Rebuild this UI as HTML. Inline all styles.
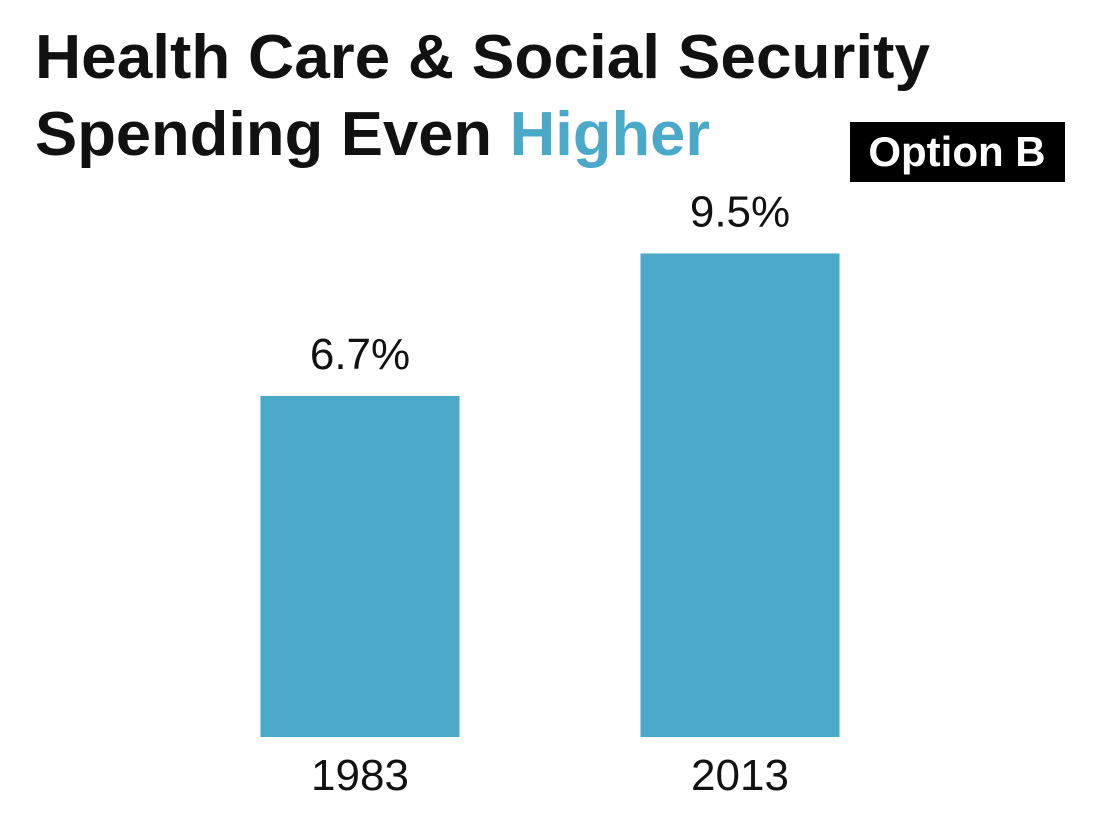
<!DOCTYPE html>
<html><head><meta charset="utf-8"><style>
html,body{margin:0;padding:0;background:#fff;}
svg{display:block;}
text{font-family:"Liberation Sans",sans-serif;}
</style></head><body>
<svg id="chart" width="1096" height="818" viewBox="0 0 1096 818">
<rect width="1096" height="818" fill="#fff"/>
<text x="35" y="78" font-size="62" font-weight="bold" fill="#111" textLength="895" lengthAdjust="spacingAndGlyphs">Health Care &amp; Social Security</text>
<text x="35" y="155" font-size="62" font-weight="bold" fill="#111" textLength="675" lengthAdjust="spacingAndGlyphs">Spending Even <tspan fill="#4aa8c9">Higher</tspan></text>
<g>
<rect x="850" y="122" width="215" height="60" fill="#000"/>
<text x="957" y="166" font-size="42" font-weight="bold" fill="#fff" text-anchor="middle">Option B</text>
</g>
<g id="bars"></g>
</svg>
<script>
const categories = ["1983", "2013"];
const values = [6.7, 9.5];
const valueLabels = ["6.7%", "9.5%"];
const baseY = 737, pxPerUnit = 50.9;
const barW = 199;
function xCenter(i){ return 360 + i*380; }
function yScale(v){ return baseY - v*pxPerUnit; }
const g = document.getElementById('bars');
const ns = 'http://www.w3.org/2000/svg';
categories.forEach((c,i)=>{
  const y = yScale(values[i]);
  const r = document.createElementNS(ns,'rect');
  
  
  r.setAttribute('x', xCenter(i)-barW/2);
  r.setAttribute('y', y);
  r.setAttribute('width', barW);
  r.setAttribute('height', baseY - y);
  r.setAttribute('fill', '#4aa8c9');
  g.appendChild(r);
  const t = document.createElementNS(ns,'text');
  
  
  t.setAttribute('x', xCenter(i));
  t.setAttribute('y', y - 27);
  t.setAttribute('font-size', '44');
  t.setAttribute('text-anchor', 'middle');
  t.setAttribute('fill', '#111');
  t.textContent = valueLabels[i];
  g.appendChild(t);
  const l = document.createElementNS(ns,'text');
  
  
  l.setAttribute('x', xCenter(i));
  l.setAttribute('y', 790);
  l.setAttribute('font-size', '44');
  l.setAttribute('text-anchor', 'middle');
  l.setAttribute('fill', '#111');
  l.textContent = c;
  g.appendChild(l);
});
</script>
</body></html>
